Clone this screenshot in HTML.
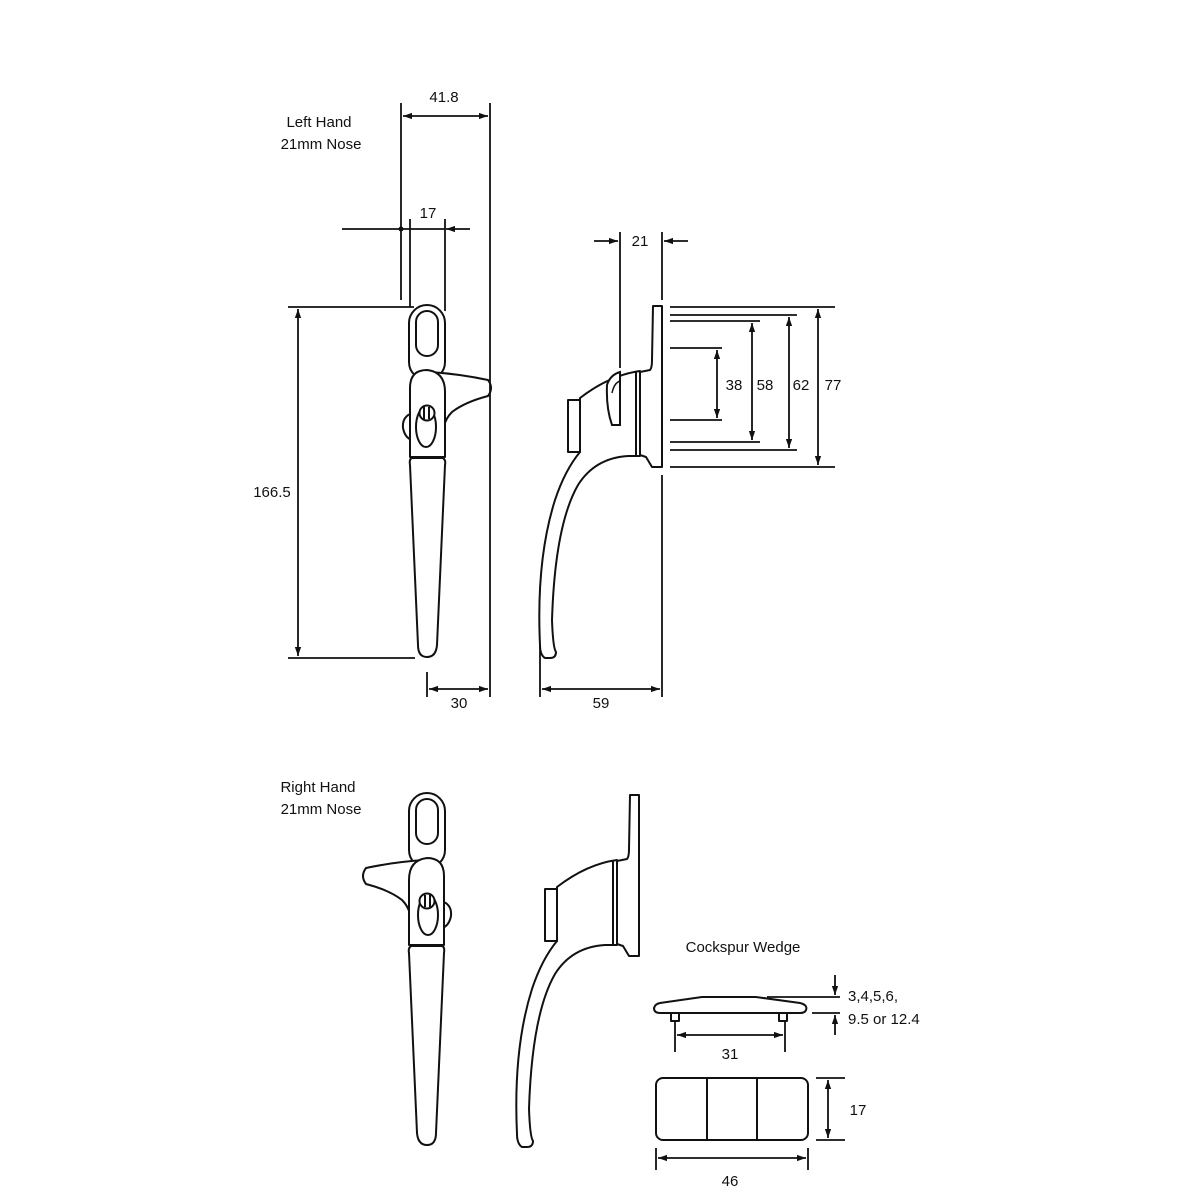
<!DOCTYPE html>
<html><head><meta charset="utf-8"><style>
html,body{margin:0;padding:0;background:#fff}
svg{display:block}
text{font-family:"Liberation Sans","DejaVu Sans",sans-serif;font-size:15px;fill:#111}
</style></head><body>
<svg width="1200" height="1200" viewBox="0 0 1200 1200" xmlns="http://www.w3.org/2000/svg">
<defs>
<marker id="a" viewBox="0 0 10 10" refX="10" refY="5" markerWidth="9" markerHeight="9" orient="auto-start-reverse" markerUnits="userSpaceOnUse"><path d="M0,1.5 L10,5 L0,8.5 Z" fill="#111"/></marker>
<g id="front" fill="#fff" stroke="#111" stroke-width="2" stroke-linejoin="round">
  <rect x="409" y="305" width="36" height="75" rx="18"/>
  <rect x="416" y="311" width="22" height="45" rx="11"/>
  <path d="M430,372 Q460,374 488,380 Q494,388 488,396 Q465,402 452,412 Q446,418 444,426 L440,400 Z"/>
  <path d="M410,414 Q402,418 403,428 Q405,438 412,440 Z"/>
  <path d="M410,457 L410,388 Q410,370 427,370 Q445,372 445,392 L445,457 Z"/>
  <ellipse cx="426" cy="427" rx="10" ry="20"/>
  <circle cx="427" cy="413" r="7.5"/>
  <path d="M424,407 L424,419 M429,407 L429,419" fill="none"/>
  <path d="M412,458 L443,458 Q446,460 445,465 L437,645 Q436,657 427,657 Q418,657 418,645 L410,465 Q409,459 412,458 Z"/>
</g>
<g id="side" fill="#fff" stroke="#111" stroke-width="2" stroke-linejoin="round">
  <path d="M653,306 L662,306 L662,467 L652,467 L646,457 L640,455 L640,372 L650,370 Q652,368 652,360 Z"/>
  <path d="M580,398 Q610,375 640,371 L640,456 L628,456 Q595,458 578,485 Q555,525 552,620 Q553,648 556,652 Q556,658 550,658 L545,658 Q540,655 540,645 Q536,560 555,500 Q565,470 580,452 Z"/>
  <rect x="568" y="400" width="12" height="52"/>
  <path d="M636,372 L636,456" fill="none"/>
</g>
</defs>

<!-- Left hand front -->
<use href="#front"/>
<!-- Left hand side + cam -->
<use href="#side"/>
<path d="M607,385 Q610,375 620,372 L620,425 L612,425 Q606,408 607,385 Z" fill="#fff" stroke="#111" stroke-width="2"/>
<path d="M612,393 Q614,383 620,381" fill="none" stroke="#111" stroke-width="1.5"/>

<!-- Right hand front (mirrored) -->
<g transform="translate(854,488) scale(-1,1)"><use href="#front"/></g>
<!-- Right hand side -->
<g transform="translate(-23,489)"><use href="#side"/></g>

<g stroke="#111" stroke-width="1.8" fill="none">
  <!-- 41.8 -->
  <line x1="401" y1="103" x2="401" y2="300"/>
  <line x1="490" y1="103" x2="490" y2="697"/>
  <line x1="403" y1="116" x2="488" y2="116" marker-start="url(#a)" marker-end="url(#a)"/>
  <!-- 17 -->
  <line x1="410" y1="219" x2="410" y2="307"/>
  <line x1="445" y1="219" x2="445" y2="311"/>
  <line x1="342" y1="229" x2="401" y2="229"/>
  <line x1="470" y1="229" x2="446" y2="229" marker-end="url(#a)"/>
  <line x1="401" y1="229" x2="445" y2="229"/>
  <!-- 166.5 -->
  <line x1="288" y1="307" x2="414" y2="307"/>
  <line x1="288" y1="658" x2="415" y2="658"/>
  <line x1="298" y1="309" x2="298" y2="656" marker-start="url(#a)" marker-end="url(#a)"/>
  <!-- 30 -->
  <line x1="427" y1="672" x2="427" y2="697"/>
  <line x1="429" y1="689" x2="488" y2="689" marker-start="url(#a)" marker-end="url(#a)"/>
  <!-- 59 -->
  <line x1="540" y1="645" x2="540" y2="697"/>
  <line x1="662" y1="475" x2="662" y2="697"/>
  <line x1="542" y1="689" x2="660" y2="689" marker-start="url(#a)" marker-end="url(#a)"/>
  <!-- 21 -->
  <line x1="620" y1="232" x2="620" y2="368"/>
  <line x1="662" y1="232" x2="662" y2="300"/>
  <line x1="594" y1="241" x2="618" y2="241" marker-end="url(#a)"/>
  <line x1="688" y1="241" x2="664" y2="241" marker-end="url(#a)"/>
  <!-- right heights -->
  <line x1="670" y1="307" x2="835" y2="307"/>
  <line x1="670" y1="467" x2="835" y2="467"/>
  <line x1="670" y1="315" x2="797" y2="315"/>
  <line x1="670" y1="450" x2="797" y2="450"/>
  <line x1="670" y1="321" x2="760" y2="321"/>
  <line x1="670" y1="442" x2="760" y2="442"/>
  <line x1="670" y1="348" x2="722" y2="348"/>
  <line x1="670" y1="420" x2="722" y2="420"/>
  <line x1="818" y1="309" x2="818" y2="465" marker-start="url(#a)" marker-end="url(#a)"/>
  <line x1="789" y1="317" x2="789" y2="448" marker-start="url(#a)" marker-end="url(#a)"/>
  <line x1="752" y1="323" x2="752" y2="440" marker-start="url(#a)" marker-end="url(#a)"/>
  <line x1="717" y1="350" x2="717" y2="418" marker-start="url(#a)" marker-end="url(#a)"/>
</g>
<circle cx="401" cy="229" r="2.5" fill="#111"/>

<!-- Wedge -->
<g stroke="#111" stroke-width="2" fill="#fff" stroke-linejoin="round">
  <rect x="671" y="1013" width="8" height="8"/>
  <rect x="779" y="1013" width="8" height="8"/>
  <path d="M660,1003 L702,997 L756,997 L800,1003 Q808,1005 806,1010 Q805,1013 800,1013 L660,1013 Q654,1013 654,1008 Q655,1004 660,1003 Z"/>
  <rect x="656" y="1078" width="152" height="62" rx="7"/>
  <line x1="707" y1="1078" x2="707" y2="1140"/>
  <line x1="757" y1="1078" x2="757" y2="1140"/>
</g>
<g stroke="#111" stroke-width="1.8" fill="none">
  <line x1="767" y1="997" x2="840" y2="997"/>
  <line x1="812" y1="1013" x2="840" y2="1013"/>
  <line x1="835" y1="975" x2="835" y2="995" marker-end="url(#a)"/>
  <line x1="835" y1="1035" x2="835" y2="1015" marker-end="url(#a)"/>
  <line x1="675" y1="1022" x2="675" y2="1052"/>
  <line x1="785" y1="1022" x2="785" y2="1052"/>
  <line x1="677" y1="1035" x2="783" y2="1035" marker-start="url(#a)" marker-end="url(#a)"/>
  <line x1="816" y1="1078" x2="845" y2="1078"/>
  <line x1="816" y1="1140" x2="845" y2="1140"/>
  <line x1="828" y1="1080" x2="828" y2="1138" marker-start="url(#a)" marker-end="url(#a)"/>
  <line x1="656" y1="1148" x2="656" y2="1170"/>
  <line x1="808" y1="1148" x2="808" y2="1170"/>
  <line x1="658" y1="1158" x2="806" y2="1158" marker-start="url(#a)" marker-end="url(#a)"/>
</g>

<!-- Text -->
<text x="319" y="127" text-anchor="middle">Left Hand</text>
<text x="321" y="149" text-anchor="middle">21mm Nose</text>
<text x="318" y="792" text-anchor="middle">Right Hand</text>
<text x="321" y="814" text-anchor="middle">21mm Nose</text>
<text x="743" y="952" text-anchor="middle">Cockspur Wedge</text>
<text x="444" y="102" text-anchor="middle">41.8</text>
<text x="428" y="218" text-anchor="middle">17</text>
<text x="272" y="497" text-anchor="middle">166.5</text>
<text x="459" y="708" text-anchor="middle">30</text>
<text x="601" y="708" text-anchor="middle">59</text>
<text x="640" y="246" text-anchor="middle">21</text>
<text x="734" y="390" text-anchor="middle">38</text>
<text x="765" y="390" text-anchor="middle">58</text>
<text x="801" y="390" text-anchor="middle">62</text>
<text x="833" y="390" text-anchor="middle">77</text>
<text x="848" y="1001">3,4,5,6,</text>
<text x="848" y="1024">9.5 or 12.4</text>
<text x="730" y="1059" text-anchor="middle">31</text>
<text x="858" y="1115" text-anchor="middle">17</text>
<text x="730" y="1186" text-anchor="middle">46</text>
</svg>
</body></html>
